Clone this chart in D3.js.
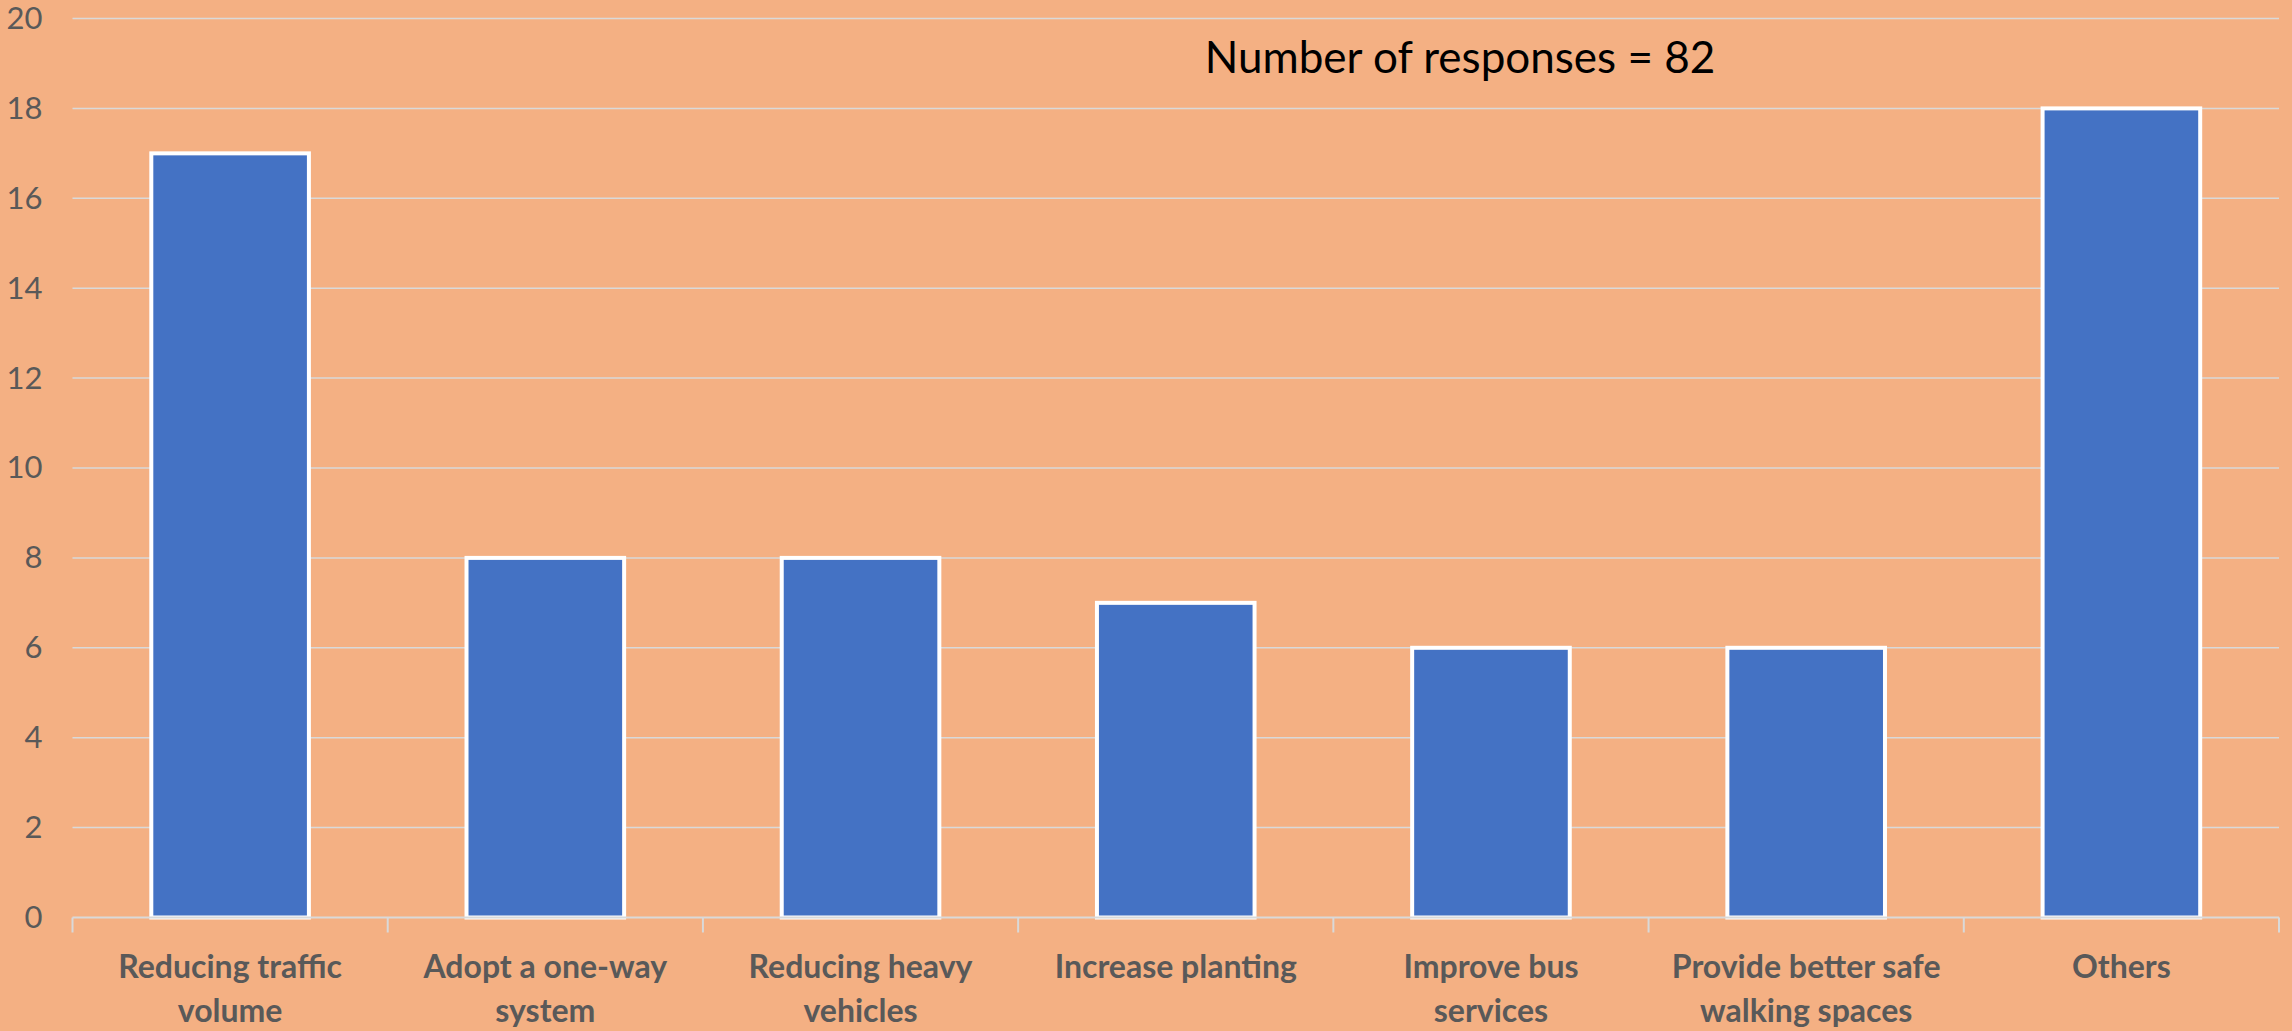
<!DOCTYPE html>
<html>
<head>
<meta charset="utf-8">
<script src="https://cdn.jsdelivr.net/npm/d3@7"></script>
<style>
  html, body { margin: 0; padding: 0; background: #F4B083; }
  svg { display: block; }
  text { font-family: Lato, "Open Sans", sans-serif; }
</style>
</head>
<body>
<svg id="chart" width="2292" height="1031"></svg>
<script>
// Suggested improvements and how many responses named each one
const categories = [
  "Reducing traffic\nvolume",
  "Adopt a one-way\nsystem",
  "Reducing heavy\nvehicles",
  "Increase planting",
  "Improve bus\nservices",
  "Provide better safe\nwalking spaces",
  "Others"
];
const responses = [17, 8, 8, 7, 6, 6, 18];
const yTicks = [0, 2, 4, 6, 8, 10, 12, 14, 16, 18, 20];
const totalLabel = "Number of responses = 82";

const W = 2292, H = 1031;
const plot = { left: 72.5, right: 2279, top: 18.5, bottom: 917.5 };

const svg = d3.select("#chart");
svg.append("rect").attr("width", W).attr("height", H).attr("fill", "#F4B083");

const x = d3.scaleBand()
  .domain(categories)
  .range([plot.left, plot.right])
  .paddingInner(0.5)
  .paddingOuter(0.25);

const y = d3.scaleLinear()
  .domain([0, 20])
  .range([plot.bottom, plot.top]);

// Horizontal gridlines
svg.append("g")
  .selectAll("line")
  .data(yTicks.filter(d => d > 0))
  .join("line")
  .attr("x1", plot.left)
  .attr("x2", plot.right)
  .attr("y1", d => y(d))
  .attr("y2", d => y(d))
  .attr("stroke", "#D9D9D9")
  .attr("stroke-width", 1.5);

// Y axis labels (no axis line)
const yAxis = svg.append("g")
  .attr("transform", `translate(${plot.left - 30},0)`)
  .call(d3.axisLeft(y).tickValues(yTicks).tickSize(0).tickPadding(0));
yAxis.select(".domain").remove();
yAxis.selectAll("text")
  .attr("fill", "#595959")
  .style("font-size", "31px")
  .style("font-family", "Lato, 'Open Sans', sans-serif");

// Bars
svg.append("g")
  .selectAll("rect")
  .data(categories.map((c, i) => ({ c, v: responses[i] })))
  .join("rect")
  .attr("x", d => x(d.c))
  .attr("width", x.bandwidth())
  .attr("y", d => y(d.v))
  .attr("height", d => y(0) - y(d.v))
  .attr("fill", "#4472C4")
  .attr("stroke", "#FFFFFF")
  .attr("stroke-width", 4);

// Category axis: baseline and tick marks at band boundaries
const step = x.step();
const boundaries = d3.range(categories.length + 1).map(i => plot.left + i * step);
const xAxisG = svg.append("g");
xAxisG.append("line")
  .attr("x1", plot.left).attr("x2", plot.right)
  .attr("y1", y(0)).attr("y2", y(0))
  .attr("stroke", "#D9D9D9").attr("stroke-width", 2);
xAxisG.selectAll("line.tick")
  .data(boundaries)
  .join("line")
  .attr("class", "tick")
  .attr("x1", d => d).attr("x2", d => d)
  .attr("y1", y(0)).attr("y2", y(0) + 15)
  .attr("stroke", "#D9D9D9").attr("stroke-width", 2);

// Category labels, wrapped onto two lines
const labels = svg.append("g")
  .selectAll("text")
  .data(categories)
  .join("text")
  .attr("text-anchor", "middle")
  .attr("fill", "#595959")
  .style("font-size", "32px")
  .style("font-weight", "bold")
  .attr("x", d => x(d) + x.bandwidth() / 2)
  .attr("y", 978);
labels.each(function(d) {
  const t = d3.select(this);
  const cx = x(d) + x.bandwidth() / 2;
  d.split("\n").forEach((line, i) => {
    t.append("tspan").attr("x", cx).attr("dy", i === 0 ? 0 : 44).text(line);
  });
});

// Response count note
svg.append("text")
  .attr("x", 1460)
  .attr("y", 73)
  .attr("text-anchor", "middle")
  .attr("fill", "#000000")
  .style("font-size", "44px")
  .text(totalLabel);
</script>
</body>
</html>
